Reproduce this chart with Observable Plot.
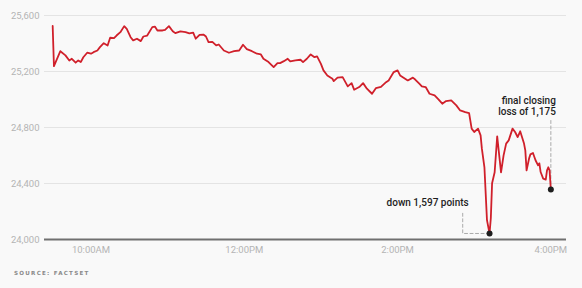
<!DOCTYPE html>
<html>
<head>
<meta charset="utf-8">
<script src="https://cdn.jsdelivr.net/npm/d3@7"></script>
<script src="https://cdn.jsdelivr.net/npm/@observablehq/plot@0.6"></script>
<style>
  html, body { margin: 0; padding: 0; background: #f9f9f9; }
  #chart { position: relative; width: 582px; height: 288px; }
  #caption { position: absolute; left: 14px; top: 270px; font-family: "DejaVu Sans", sans-serif; font-weight: bold; font-size: 5.6px; letter-spacing: 1.25px; color: #8a8a8a; text-transform: uppercase; }
</style>
</head>
<body>
<div id="chart"><div id="caption">Source: FactSet</div></div>
<script>
// Dow Jones Industrial Average, Feb 5 2018, intraday (time ET, index level)
const times = ["9:30","9:31","9:36","9:40","9:43","9:45","9:48","9:50","9:52","9:54","9:57","10:00","10:02","10:05","10:07","10:10","10:13","10:15","10:18","10:20","10:23","10:26","10:28","10:31","10:33","10:36","10:39","10:41","10:44","10:48","10:50","10:52","10:56","10:58","11:01","11:04","11:06","11:10","11:14","11:17","11:20","11:22","11:25","11:28","11:30","11:32","11:35","11:38","11:40","11:44","11:48","11:52","11:56","11:59","12:02","12:06","12:10","12:13","12:15","12:19","12:23","12:26","12:28","12:31","12:34","12:36","12:40","12:44","12:46","12:49","12:52","12:55","12:57","13:00","13:02","13:05","13:09","13:10","13:13","13:17","13:21","13:24","13:26","13:30","13:33","13:36","13:40","13:43","13:47","13:51","13:53","13:57","14:00","14:02","14:08","14:12","14:14","14:17","14:19","14:22","14:25","14:29","14:32","14:35","14:38","14:42","14:46","14:49","14:53","14:56","14:58","15:00","15:03","15:05","15:06","15:08","15:10","15:12","15:13","15:14","15:16","15:18","15:21","15:23","15:25","15:27","15:30","15:32","15:34","15:36","15:39","15:40","15:41","15:43","15:44","15:46","15:48","15:50","15:51","15:52","15:54","15:56","15:57","15:58","15:59","16:00"];
const values = [25525,25238,25345,25315,25279,25291,25263,25279,25267,25302,25334,25327,25338,25350,25374,25402,25386,25441,25438,25457,25481,25524,25505,25445,25422,25434,25417,25450,25457,25517,25521,25493,25493,25498,25524,25488,25474,25486,25481,25472,25477,25434,25462,25464,25450,25410,25412,25386,25393,25350,25334,25345,25350,25391,25360,25345,25327,25322,25291,25267,25231,25260,25260,25274,25291,25272,25279,25284,25267,25291,25322,25302,25308,25255,25208,25172,25148,25131,25156,25160,25094,25117,25070,25089,25117,25077,25041,25081,25090,25124,25136,25196,25208,25172,25136,25156,25141,25113,25094,25089,25041,25029,25001,24970,24989,24994,24958,24922,24910,24903,24792,24768,24792,24744,24649,24516,24138,24043,24152,24402,24480,24737,24480,24601,24685,24708,24792,24768,24732,24773,24685,24637,24494,24580,24608,24618,24566,24530,24544,24482,24435,24428,24494,24516,24494,24357];

const yTicks = [24000, 24400, 24800, 25200, 25600];
const xTicks = ["10:00", "12:00", "14:00", "16:00"];
const xTickLabels = ["10:00AM", "12:00PM", "2:00PM", "4:00PM"];
const xDomain = ["9:23:36", "16:12:15"];

// annotations
const lowTime = "15:12", lowValue = 24043, lowLeaderTime = "14:51", lowLeaderTop = 24197;
const lowLabel = "down 1,597 points";
const closeTime = "16:00", closeValue = 24357, closeLeaderTop = 24858;
const closeLabel = "final closing\nloss of 1,175";

const t = s => { const [h, m, sec] = s.split(":").map(Number); return new Date(Date.UTC(2018, 1, 5, h, m, sec || 0)); };
const data = times.map((s, i) => ({time: t(s), value: values[i]}));
const tickDates = xTicks.map(t);
const labelOf = d => xTickLabels[tickDates.findIndex(x => +x === +d)];

const chart = Plot.plot({
  width: 582,
  height: 262,
  marginLeft: 44,
  marginRight: 16,
  marginTop: 15,
  marginBottom: 23,
  style: {background: "transparent", fontFamily: "Roboto, sans-serif", fontSize: "9.5px", color: "#b4b4b4", overflow: "visible"},
  x: {type: "utc", domain: xDomain.map(t), ticks: tickDates, tickFormat: labelOf, tickSize: 0, tickPadding: 7, label: null},
  y: {domain: [24000, 25600], ticks: yTicks, tickFormat: d3.format(","), tickSize: 0, tickPadding: 5, label: null},
  marks: [
    Plot.ruleY(yTicks.slice(1), {stroke: "#e4e4e4", strokeWidth: 1}),
    Plot.ruleY([yTicks[0]], {stroke: "#707070", strokeWidth: 1.8}),
    Plot.line([
      {time: t(lowTime), value: lowValue},
      {time: t(lowLeaderTime), value: lowValue},
      {time: t(lowLeaderTime), value: lowLeaderTop}
    ], {x: "time", y: "value", stroke: "#aaaaaa", strokeWidth: 1, strokeDasharray: "3,2.5"}),
    Plot.line([
      {time: t(closeTime), value: closeValue},
      {time: t(closeTime), value: closeLeaderTop}
    ], {x: "time", y: "value", stroke: "#aaaaaa", strokeWidth: 1, strokeDasharray: "3,2.5"}),
    Plot.line(data, {x: "time", y: "value", stroke: "#d0202b", strokeWidth: 1.8, strokeLinejoin: "round"}),
    Plot.dot([{time: t(lowTime), value: lowValue}, {time: t(closeTime), value: closeValue}], {x: "time", y: "value", r: 3, fill: "#1e1e1e", stroke: "none"}),
    Plot.text([{time: t(lowLeaderTime), value: lowLeaderTop}], {x: "time", y: "value", text: () => lowLabel, textAnchor: "end", dx: 6, dy: -9, fill: "#1e1e1e", fontSize: 10, fontWeight: 500, fontFamily: "Roboto, sans-serif"}),
    Plot.text([{time: t(closeTime), value: closeLeaderTop}], {x: "time", y: "value", text: () => closeLabel, textAnchor: "end", lineAnchor: "bottom", lineHeight: 1.15, dx: 5, dy: -4, fill: "#1e1e1e", fontSize: 10, fontWeight: 500, fontFamily: "Roboto, sans-serif"})
  ]
});
document.getElementById("chart").prepend(chart);
</script>
</body>
</html>
